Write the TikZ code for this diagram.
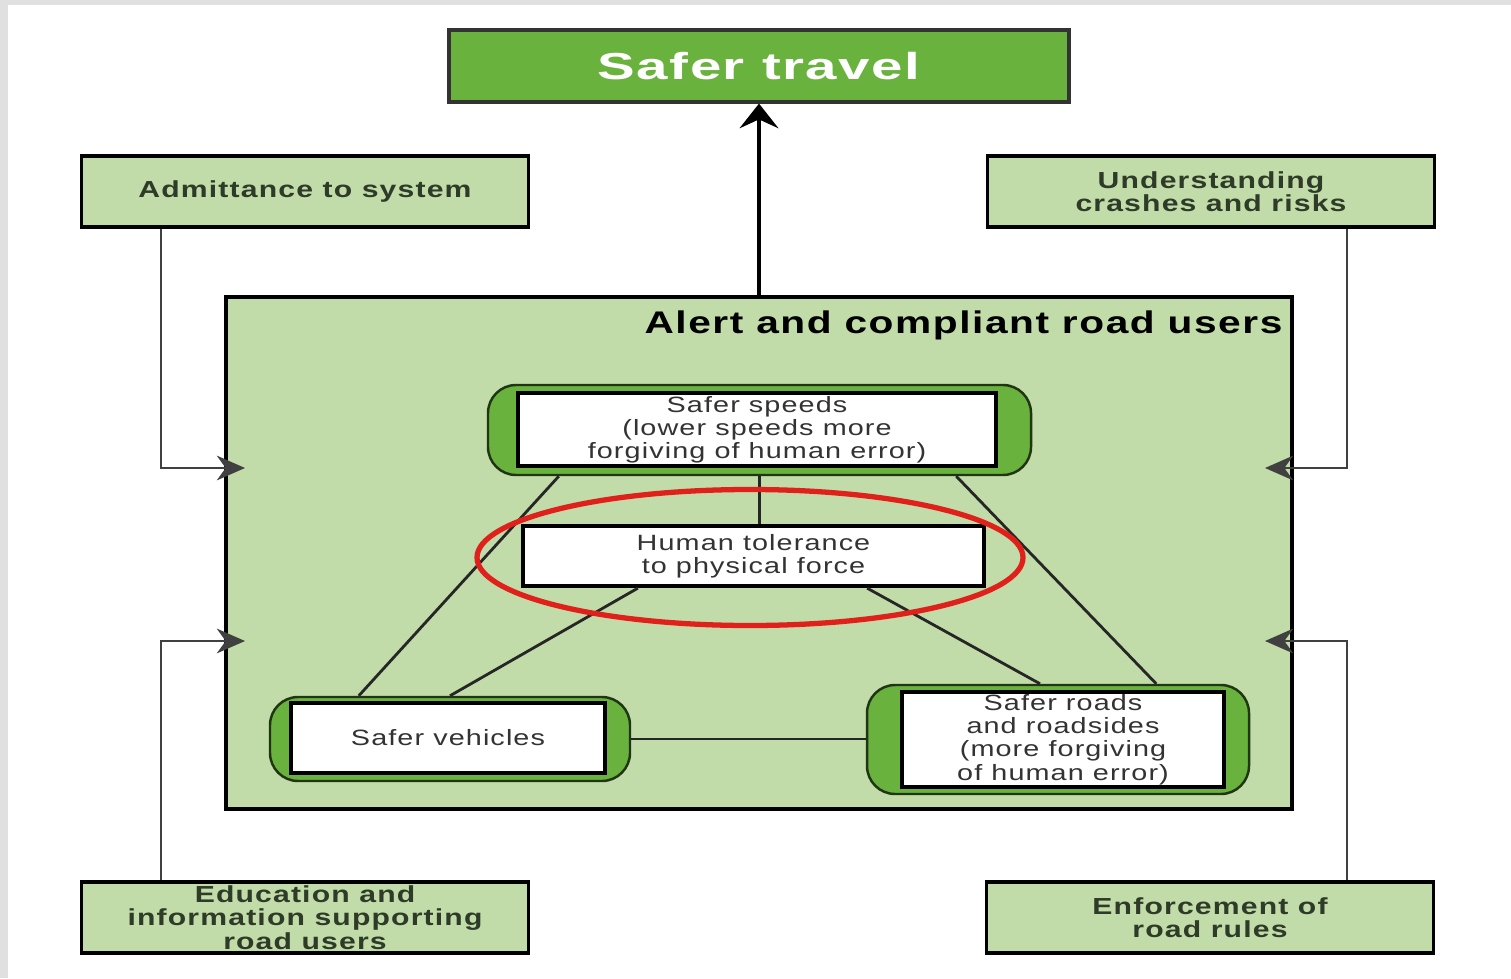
\documentclass[tikz,border=0pt]{standalone}
\usepackage{fontspec}
\usetikzlibrary{arrows.meta,shapes.geometric}
\newfontfamily\boxfont[FakeStretch=1.3,LetterSpace=5]{Liberation Sans}
\newfontfamily\headfont[FakeStretch=1.5,LetterSpace=4]{Liberation Sans}
\definecolor{leafgreen}{HTML}{6AB23E}
\definecolor{palegreen}{HTML}{C1DCA8}
\definecolor{inkgreen}{HTML}{2E3B28}
\definecolor{ringred}{HTML}{E0201B}
\definecolor{framegray}{HTML}{E0E0E0}
\begin{document}
\begin{tikzpicture}
    % Define styles
    \tikzset{
        goalbox/.style={draw=black!80, line width=0.9pt, fill=leafgreen, minimum width=6.2cm, minimum height=0.72cm, inner sep=0pt, text=white, font=\headfont\bfseries\fontsize{10.7}{11}\selectfont},
        sidebox/.style={draw=black, line width=1pt, fill=palegreen, minimum width=4.47cm, minimum height=0.71cm, inner sep=0pt, align=center, text=inkgreen, font=\boxfont\bfseries\fontsize{6.6}{6.6}\selectfont},
        areabox/.style={draw=black, line width=1.2pt, fill=palegreen, minimum width=10.66cm, minimum height=5.12cm, inner sep=0pt},
        pillar/.style={draw=black!70!leafgreen, line width=0.7pt, fill=leafgreen, rounded corners=8pt, inner sep=0pt},
        pillarin/.style={draw=black, line width=1pt, fill=white, inner sep=0pt, align=center, text=black!80, font=\boxfont\fontsize{6.3}{6.6}\selectfont},
        link/.style={black!85, line width=0.8pt},
        feedarrow/.style={black!75, line width=0.8pt, -{Stealth[length=8pt, width=7pt, inset=2.5pt]}},
        uparrow/.style={black, line width=1.2pt, -{Stealth[length=7pt, width=11pt, inset=2.5pt]}},
        ring/.style={draw=ringred, line width=1.5pt, ellipse, minimum width=5.46cm, minimum height=1.36cm}
    }

    % Frame and bounds
    \useasboundingbox (0,0) rectangle (15.11,9.78);
    \fill[framegray] (0,0) rectangle (15.11,9.78);
    \fill[white] (0.08,0) rectangle (15.11,9.73);

    % Goal
    \node[goalbox] (travel) at (7.59,9.12) {Safer travel};

    % Supporting boxes
    \node[sidebox] (admit) at (3.05,7.865) {Admittance to system};
    \node[sidebox] (understand) at (12.11,7.865) {Understanding\\crashes and risks};
    \node[sidebox] (educate) at (3.05,0.605) {Education and\\information supporting\\road users};
    \node[sidebox] (enforce) at (12.10,0.605) {Enforcement of\\road rules};

    % Road users area
    \node[areabox] (alert) at (7.59,4.25) {};
    \node[anchor=north east, inner sep=0pt, font=\boxfont\bfseries\fontsize{8.9}{9}\selectfont] (alerttitle) at ([xshift=-0.11cm,yshift=-0.15cm]alert.north east) {Alert and compliant road users};

    % Pillars
    \node[pillar, minimum width=5.43cm, minimum height=0.90cm] (speeds) at (7.595,5.48) {};
    \node[pillarin, minimum width=4.78cm, minimum height=0.73cm] (speedsin) at (7.57,5.485) {Safer speeds\\(lower speeds more\\forgiving of human error)};
    \node[pillar, minimum width=3.60cm, minimum height=0.84cm] (vehicles) at (4.50,2.39) {};
    \node[pillarin, minimum width=3.14cm, minimum height=0.70cm] (vehiclesin) at (4.48,2.40) {Safer vehicles};
    \node[pillar, minimum width=3.82cm, minimum height=1.09cm] (roads) at (10.58,2.385) {};
    \node[pillarin, minimum width=3.22cm, minimum height=0.95cm] (roadsin) at (10.63,2.385) {Safer roads\\and roadsides\\(more forgiving\\of human error)};

    % Core
    \node[pillarin, line width=1.2pt, minimum width=4.61cm, minimum height=0.60cm] (tolerance) at (7.535,4.22) {Human tolerance\\to physical force};

    % Links
    \draw[link] (speeds.south) -- (speeds.south |- tolerance.north);
    \draw[link] ([xshift=0.72cm]speeds.south west) -- ([xshift=0.90cm]vehicles.north west);
    \draw[link] ([xshift=-0.76cm]speeds.south east) -- ([xshift=-0.94cm]roads.north east);
    \draw[link] ([xshift=1.17cm]tolerance.south west) -- (vehicles.north);
    \draw[link] ([xshift=-1.19cm]tolerance.south east) -- ([xshift=-0.18cm]roads.north);
    \draw[link] (vehicles.east) -- (vehicles.east -| roads.west);

    % Highlight
    \node[ring] (focus) at (7.50,4.205) {};

    % Feeds into road users
    \coordinate (inA) at (2.45,5.10);
    \coordinate (inE) at (2.45,3.37);
    \coordinate (inU) at (12.65,5.10);
    \coordinate (inF) at (12.65,3.37);
    \draw[feedarrow] ([xshift=-1.44cm]admit.south) |- (inA);
    \draw[feedarrow] ([xshift=-1.44cm]educate.north) |- (inE);
    \draw[feedarrow] ([xshift=1.36cm]understand.south) |- (inU);
    \draw[feedarrow] ([xshift=1.37cm]enforce.north) |- (inF);

    % Outcome
    \draw[uparrow] (alert.north) -- (travel.south);

\end{tikzpicture}
\end{document}
